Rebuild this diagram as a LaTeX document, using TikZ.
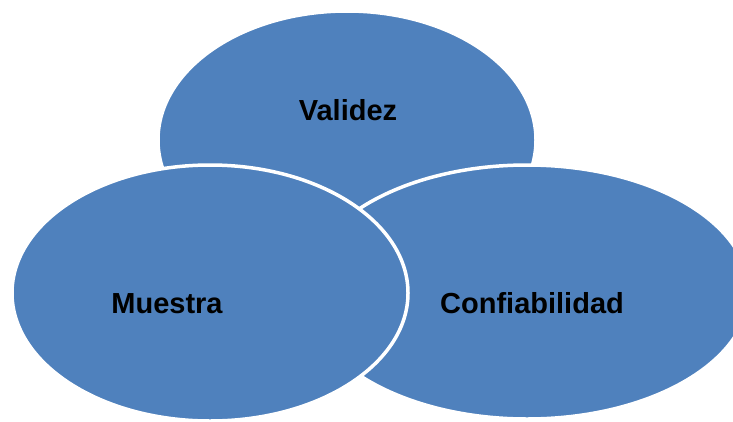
\documentclass[tikz,border=0pt]{standalone}
\usepackage{fontspec}
\setmainfont{Liberation Sans}
\usetikzlibrary{shapes.geometric}
\definecolor{vennblue}{RGB}{79,129,189}
\tikzset{
  vennset/.style={ellipse, fill=vennblue, draw=white, line width=3.5pt, inner sep=0pt},
  vennlabel/.style={anchor=base, font=\fontsize{29}{34}\selectfont\bfseries, text=black}
}
\begin{document}
\begin{tikzpicture}[x=1pt, y=-1pt]
                \useasboundingbox (0,0) rectangle (733,421);

                \node[vennset, minimum width=378pt, minimum height=258pt] (validez) at (347,140) {};
                \node[vennset, minimum width=444pt, minimum height=254pt] (confiabilidad) at (527,292) {};
                \node[vennset, minimum width=396pt, minimum height=256pt] (muestra) at (210,293) {};

                \node[vennlabel] (validezlbl) at (348,120) {Validez};
                \node[vennlabel] (muestralbl) at (167,313) {Muestra};
                \node[vennlabel] (confiabilidadlbl) at (532,313) {Confiabilidad};
            \end{tikzpicture}
\end{document}
